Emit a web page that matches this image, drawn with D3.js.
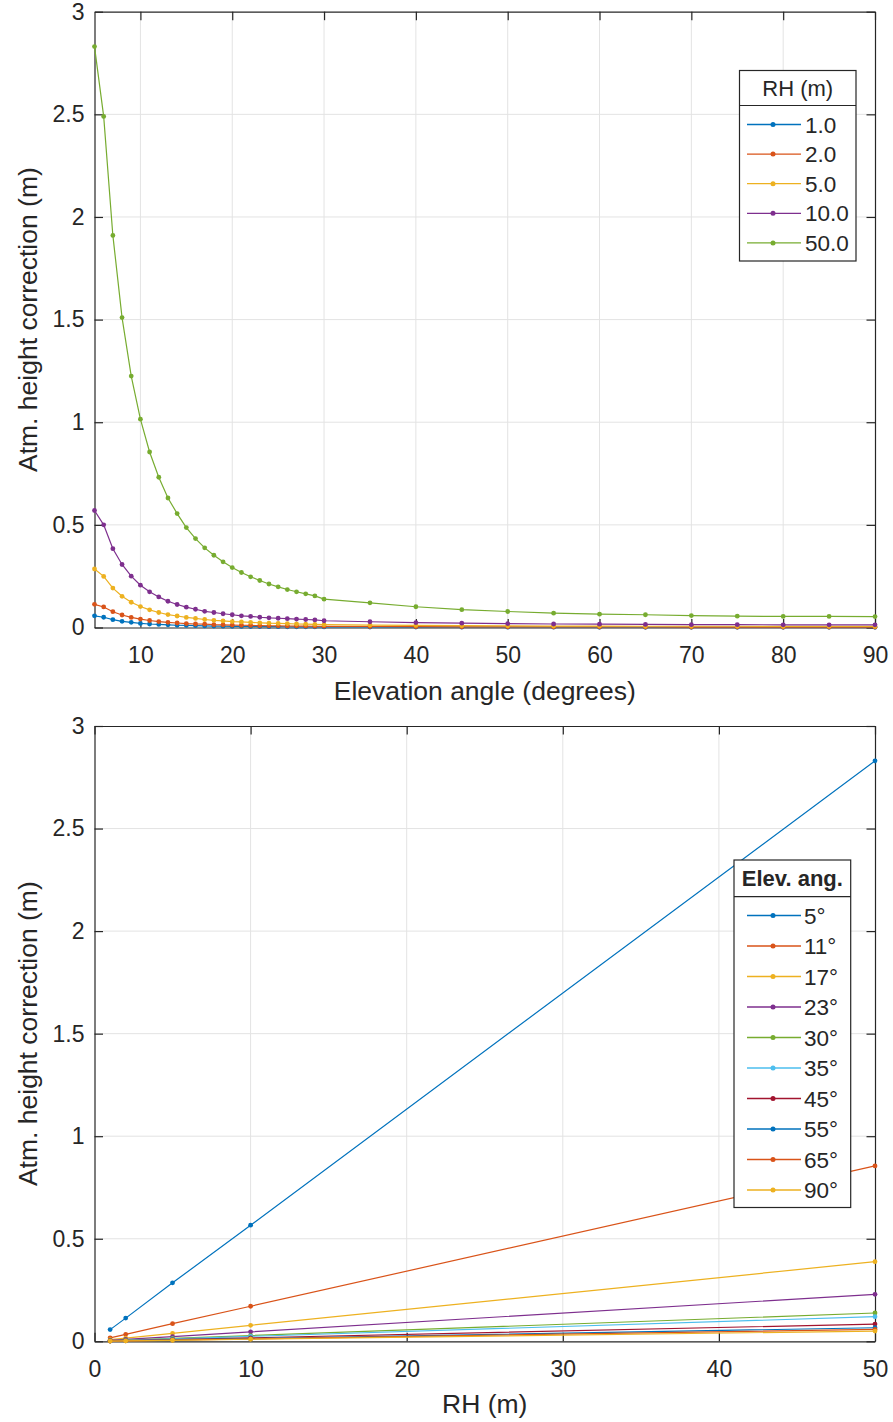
<!DOCTYPE html>
<html>
<head>
<meta charset="utf-8">
<script src="https://cdn.jsdelivr.net/npm/d3@7"></script>
<style>
  body{margin:0;background:#fff}
  svg{display:block}
  text{font-family:"Liberation Sans",Arial,Helvetica,sans-serif;fill:#262626}
</style>
</head>
<body>
<div id="chart"></div>
<script>
// top panel: correction vs elevation angle, one line per RH
var elevAngles = [5,6,7,8,9,10,11,12,13,14,15,16,17,18,19,20,21,22,23,24,25,26,27,28,29,30,35,40,45,50,55,60,65,70,75,80,85,90]
var rhNames = ['1.0','2.0','5.0','10.0','50.0']
var rh1  = [0.057,0.050,0.038,0.030,0.025,0.020,0.017,0.015,0.013,0.011,0.010,0.0087,0.0078,0.007,0.0064,0.0058,0.0054,0.0049,0.0046,0.0042,0.004,0.0037,0.0035,0.0033,0.0031,0.0028,0.0024,0.002,0.0017,0.0016,0.0014,0.0013,0.0012,0.0012,0.0011,0.0011,0.0011,0.0011]
var rh2  = [0.113,0.100,0.077,0.061,0.049,0.041,0.034,0.029,0.025,0.022,0.019,0.017,0.016,0.014,0.013,0.012,0.011,0.010,0.009,0.0085,0.008,0.0074,0.007,0.0066,0.0062,0.0055,0.0048,0.004,0.0035,0.0031,0.0028,0.0026,0.0025,0.0023,0.0022,0.0022,0.0022,0.0021]
var rh5  = [0.285,0.249,0.192,0.152,0.123,0.102,0.086,0.073,0.063,0.056,0.049,0.044,0.039,0.035,0.032,0.029,0.027,0.025,0.023,0.021,0.020,0.019,0.017,0.016,0.015,0.014,0.012,0.010,0.009,0.008,0.007,0.007,0.006,0.006,0.006,0.005,0.005,0.005]
var rh10 = [0.57,0.50,0.384,0.307,0.250,0.206,0.174,0.149,0.128,0.112,0.099,0.089,0.079,0.073,0.067,0.062,0.057,0.054,0.050,0.047,0.045,0.043,0.041,0.039,0.037,0.033,0.028,0.024,0.021,0.019,0.017,0.016,0.015,0.014,0.014,0.013,0.013,0.013]
var rh50 = [2.83,2.49,1.91,1.51,1.225,1.015,0.855,0.732,0.631,0.555,0.487,0.433,0.388,0.352,0.320,0.292,0.268,0.247,0.229,0.212,0.198,0.185,0.174,0.164,0.154,0.138,0.120,0.101,0.087,0.078,0.070,0.065,0.062,0.058,0.055,0.054,0.054,0.053]

// bottom panel: correction vs RH, one line per elevation angle
var rhValues = [1,2,5,10,50]
var elevNames = ['5°','11°','17°','23°','30°','35°','45°','55°','65°','90°']
var e5  = [0.057,0.113,0.285,0.566,2.83]
var e11 = [0.017,0.034,0.086,0.171,0.855]
var e17 = [0.0078,0.0155,0.039,0.078,0.388]
var e23 = [0.0046,0.0092,0.023,0.046,0.229]
var e30 = [0.0028,0.0055,0.014,0.028,0.138]
var e35 = [0.0024,0.0048,0.012,0.024,0.120]
var e45 = [0.0017,0.0034,0.0085,0.017,0.084]
var e55 = [0.0013,0.0026,0.0066,0.013,0.066]
var e65 = [0.0012,0.0023,0.0058,0.012,0.058]
var e90 = [0.0010,0.0020,0.0050,0.010,0.050]

var yTicks = [0,0.5,1,1.5,2,2.5,3]
var topXTicks = [10,20,30,40,50,60,70,80,90]
var botXTicks = [0,10,20,30,40,50]

var colors = ['#0072BD','#D95319','#EDB120','#7E2F8E','#77AC30','#4DBEEE','#A2142F']

var W = 893, H = 1422
var svg = d3.select('#chart').append('svg').attr('width',W).attr('height',H)

var panel = (opt) => {
  var x = d3.scaleLinear().domain(opt.xDomain).range([94.5,875])
  var y = d3.scaleLinear().domain([0,3]).range([opt.bottom,opt.top])
  var g = svg.append('g')
  var tickLen = 8.5

  // grid
  g.append('g').selectAll('line').data(opt.xTicks.filter(d=>d>opt.xDomain[0]&&d<opt.xDomain[1]))
    .enter().append('line')
      .attr('x1',d=>x(d)).attr('x2',d=>x(d)).attr('y1',y(0)).attr('y2',y(3))
      .style('stroke','#e3e3e3').style('stroke-width',1)
  g.append('g').selectAll('line').data(yTicks.filter(d=>d>0&&d<3))
    .enter().append('line')
      .attr('x1',x.range()[0]).attr('x2',x.range()[1]).attr('y1',d=>y(d)).attr('y2',d=>y(d))
      .style('stroke','#e3e3e3').style('stroke-width',1)

  // axes, ticks inside
  var xb = g.append('g').attr('transform',`translate(0,${y(0)})`)
    .call(d3.axisBottom(x).tickValues(opt.xTicks).tickSizeInner(-tickLen).tickSizeOuter(0).tickPadding(19.5).tickFormat(d3.format('d')))
  var xt = g.append('g').attr('transform',`translate(0,${y(3)})`)
    .call(d3.axisTop(x).tickValues(opt.xTicks).tickSizeInner(-tickLen).tickSizeOuter(0).tickFormat(''))
  var yl = g.append('g').attr('transform',`translate(${x.range()[0]},0)`)
    .call(d3.axisLeft(y).tickValues(yTicks).tickSizeInner(-tickLen).tickSizeOuter(0).tickPadding(10).tickFormat(d=>String(d)))
  var yr = g.append('g').attr('transform',`translate(${x.range()[1]},0)`)
    .call(d3.axisRight(y).tickValues(yTicks).tickSizeInner(-tickLen).tickSizeOuter(0).tickFormat(''))
  ;[xb,xt,yl,yr].forEach(a=>{
    a.selectAll('.domain').style('stroke','#262626').style('stroke-width',1.2)
    a.selectAll('.tick line').style('stroke','#262626').style('stroke-width',1.2)
    a.selectAll('text').style('font-size','23px').style('fill','#262626')
      .style('font-family','"Liberation Sans",Arial,sans-serif')
  })

  // axis labels
  g.append('text').attr('x',(x.range()[0]+x.range()[1])/2).attr('y',y(0)+72)
    .attr('text-anchor','middle').style('font-size','26.5px').text(opt.xLabel)
  g.append('text').attr('transform',`translate(37,${(y(0)+y(3))/2}) rotate(-90)`)
    .attr('text-anchor','middle').style('font-size','26.5px').text('Atm. height correction (m)')

  // series
  var line = d3.line().x(d=>x(d[0])).y(d=>y(d[1]))
  opt.series.forEach((s,i)=>{
    var pts = opt.xs.map((v,k)=>[v,s[k]])
    var c = colors[i%colors.length]
    g.append('path').datum(pts).attr('d',line)
      .style('fill','none').style('stroke',c).style('stroke-width',1.2)
    g.append('g').selectAll('circle').data(pts).enter().append('circle')
      .attr('cx',d=>x(d[0])).attr('cy',d=>y(d[1])).attr('r',2.4).style('fill',c)
  })

  // legend
  var L = opt.legend
  var lg = g.append('g')
  lg.append('rect').attr('x',L.x).attr('y',L.y).attr('width',L.w).attr('height',L.h)
    .style('fill','#fff').style('stroke','#262626').style('stroke-width',1.2)
  lg.append('line').attr('x1',L.x).attr('x2',L.x+L.w).attr('y1',L.y+L.titleH).attr('y2',L.y+L.titleH)
    .style('stroke','#262626').style('stroke-width',1.2)
  lg.append('text').attr('x',L.x+L.w/2).attr('y',L.y+L.titleH/2+8).attr('text-anchor','middle')
    .style('font-size','22px').style('font-weight',L.bold?'bold':'normal').text(L.title)
  opt.names.forEach((n,i)=>{
    var ly = L.first + i*L.step
    var c = colors[i%colors.length]
    lg.append('line').attr('x1',747).attr('x2',801).attr('y1',ly).attr('y2',ly)
      .style('stroke',c).style('stroke-width',1.3)
    lg.append('circle').attr('cx',773).attr('cy',ly).attr('r',2.5).style('fill',c)
    lg.append('text').attr('x',L.textX).attr('y',ly+8).style('font-size','22.5px').text(n)
  })
}

panel({
  top:11.7, bottom:627.5, xDomain:[5,90], xTicks:topXTicks, xs:elevAngles,
  series:[rh1,rh2,rh5,rh10,rh50], names:rhNames, xLabel:'Elevation angle (degrees)',
  legend:{x:739.5,y:70.5,w:116.5,h:190.5,titleH:35,title:'RH (m)',bold:false,first:124.5,step:29.6,textX:805}
})
panel({
  top:726, bottom:1341.3, xDomain:[0,50], xTicks:botXTicks, xs:rhValues,
  series:[e5,e11,e17,e23,e30,e35,e45,e55,e65,e90], names:elevNames, xLabel:'RH (m)',
  legend:{x:734,y:860,w:116.7,h:347.5,titleH:36.7,title:'Elev. ang.',bold:true,first:915.5,step:30.5,textX:804}
})
</script>
</body>
</html>
